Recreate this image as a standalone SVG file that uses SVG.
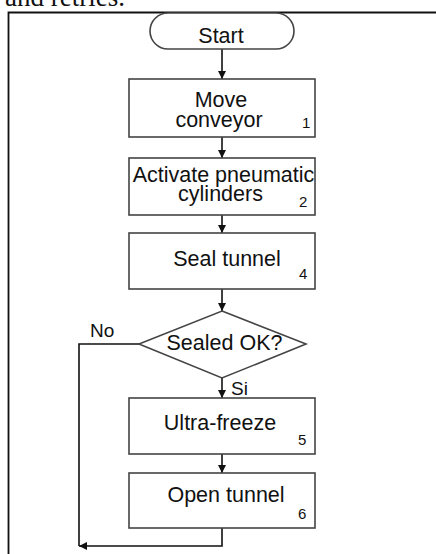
<svg xmlns="http://www.w3.org/2000/svg" width="436" height="554" viewBox="0 0 436 554">
<defs>
<marker id="ah" viewBox="0 0 10 10" refX="10" refY="5" markerWidth="8" markerHeight="8" markerUnits="userSpaceOnUse" orient="auto">
<path d="M0,0 L10,5 L0,10 z" fill="#111"/>
</marker>
</defs>
<style>
.box{fill:#fff;stroke:#444;stroke-width:1.6}
.t{font-family:"Liberation Sans",Arial,sans-serif;font-size:21.5px;fill:#111;text-anchor:middle}
.n{font-family:"Liberation Sans",Arial,sans-serif;font-size:15px;fill:#111}
.lbl{font-family:"Liberation Sans",Arial,sans-serif;font-size:19px;fill:#111}
.c{fill:none;stroke:#111;stroke-width:1.6}
</style>
<rect x="0" y="0" width="436" height="554" fill="#fff"/>
<text x="5" y="6" font-family="'Liberation Serif','Times New Roman',serif" font-size="27" fill="#111">and retries.</text>
<path d="M8.5,554 L8.5,12.5 L436,12.5" fill="none" stroke="#111" stroke-width="1.8"/>
<g id="connectors">
<line class="c" x1="222" y1="49" x2="222" y2="79" marker-end="url(#ah)"/>
<line class="c" x1="222" y1="137" x2="222" y2="158" marker-end="url(#ah)"/>
<line class="c" x1="222" y1="215" x2="222" y2="233" marker-end="url(#ah)"/>
<line class="c" x1="222" y1="289" x2="222" y2="311" marker-end="url(#ah)"/>
<line class="c" x1="222" y1="378" x2="222" y2="398" marker-end="url(#ah)"/>
<line class="c" x1="222" y1="454" x2="222" y2="473" marker-end="url(#ah)"/>
<polyline class="c" points="222,528 222,546 79,546" marker-end="url(#ah)"/>
<polyline class="c" points="139,344 79,344 79,546"/>
<text class="lbl" x="90" y="337">No</text>
<text class="lbl" x="231" y="395">Si</text>
</g>
<g id="start">
<rect class="box" x="150" y="13" width="144" height="36" rx="18" ry="18"/>
<text class="t" x="221" y="43">Start</text>
</g>
<g id="step1">
<rect class="box" x="129" y="79" width="186" height="58"/>
<text class="t" x="221" y="107">Move</text>
<text class="t" x="219" y="127">conveyor</text>
<text class="n" x="302" y="128">1</text>
</g>
<g id="step2">
<rect class="box" x="129" y="158" width="186" height="57"/>
<text class="t" x="223.5" y="182" font-size="19.5">Activate pneumatic</text>
<text class="t" x="220.5" y="201">cylinders</text>
<text class="n" x="299" y="207">2</text>
</g>
<g id="step4">
<rect class="box" x="129" y="233" width="186" height="56"/>
<text class="t" x="227" y="266">Seal tunnel</text>
<text class="n" x="299" y="279">4</text>
</g>
<g id="decision">
<polygon class="box" points="222,311 306,344 222,378 139,344"/>
<text class="t" x="224.5" y="350">Sealed OK?</text>
</g>
<g id="step5">
<rect class="box" x="129" y="398" width="186" height="56"/>
<text class="t" x="220" y="430">Ultra-freeze</text>
<text class="n" x="298" y="445">5</text>
</g>
<g id="step6">
<rect class="box" x="129" y="473" width="186" height="55"/>
<text class="t" x="226" y="502">Open tunnel</text>
<text class="n" x="298" y="519">6</text>
</g>
</svg>
